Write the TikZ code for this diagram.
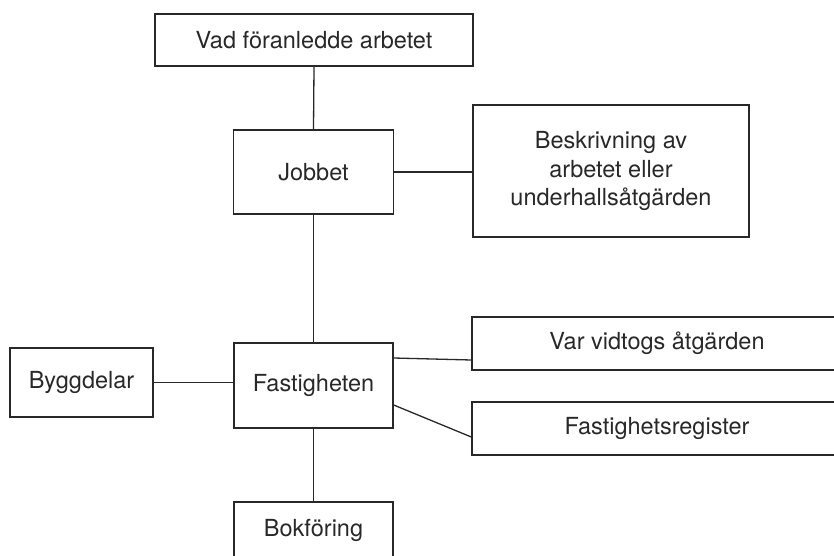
\documentclass[tikz,border=0pt]{standalone}
\usepackage{fontspec}
\setmainfont{TeX Gyre Heros}
\definecolor{ink}{RGB}{40,40,40}
\begin{document}
\begin{tikzpicture}[x=1pt,y=-1pt,
  box/.style={draw=ink, line width=1.4pt, inner sep=0pt, align=center, text=ink,
    font=\fontsize{23.5pt}{28.5pt}\selectfont},
  link/.style={draw=ink, line width=1.3pt}]
\useasboundingbox (0,0) rectangle (834,556);
\clip (0,0) rectangle (834,556);
\node[box, minimum width=318pt, minimum height=52pt] (top) at (314,40) {Vad föranledde arbetet};
\node[box, minimum width=160pt, minimum height=84pt] (job) at (313.5,172) {Jobbet};
\node[box, minimum width=276pt, minimum height=132pt] (besk) at (611,171) {Beskrivning av\\arbetet eller\\underhallsåtgärden};
\node[box, minimum width=159pt, minimum height=85pt] (fast) at (313.5,385.5) {Fastigheten};
\node[box, minimum width=143pt, minimum height=69pt] (bygg) at (81.5,382.5) {Byggdelar};
\node[box, minimum width=370pt, minimum height=53pt] (var) at (657,343.5) {Var vidtogs åtgärden};
\node[box, minimum width=370pt, minimum height=53pt] (reg) at (657,428.5) {Fastighetsregister};
\node[box, minimum width=159pt, minimum height=56pt] (bok) at (313.5,530) {Bokföring};
\draw[link] (top.south) -- (job.north);
\draw[link] (job.east) -- (job.east -| besk.west);
\draw[link] (job.south) -- (fast.north);
\draw[link] (bygg.east) -- (bygg.east -| fast.west);
\draw[link] ([yshift=27.5pt]fast.east) -- ([yshift=-16.5pt]var.west);
\draw[link] ([yshift=-19.5pt]fast.east) -- ([yshift=-8.5pt]reg.west);
\draw[link] (fast.south) -- (bok.north);
\end{tikzpicture}
\end{document}
